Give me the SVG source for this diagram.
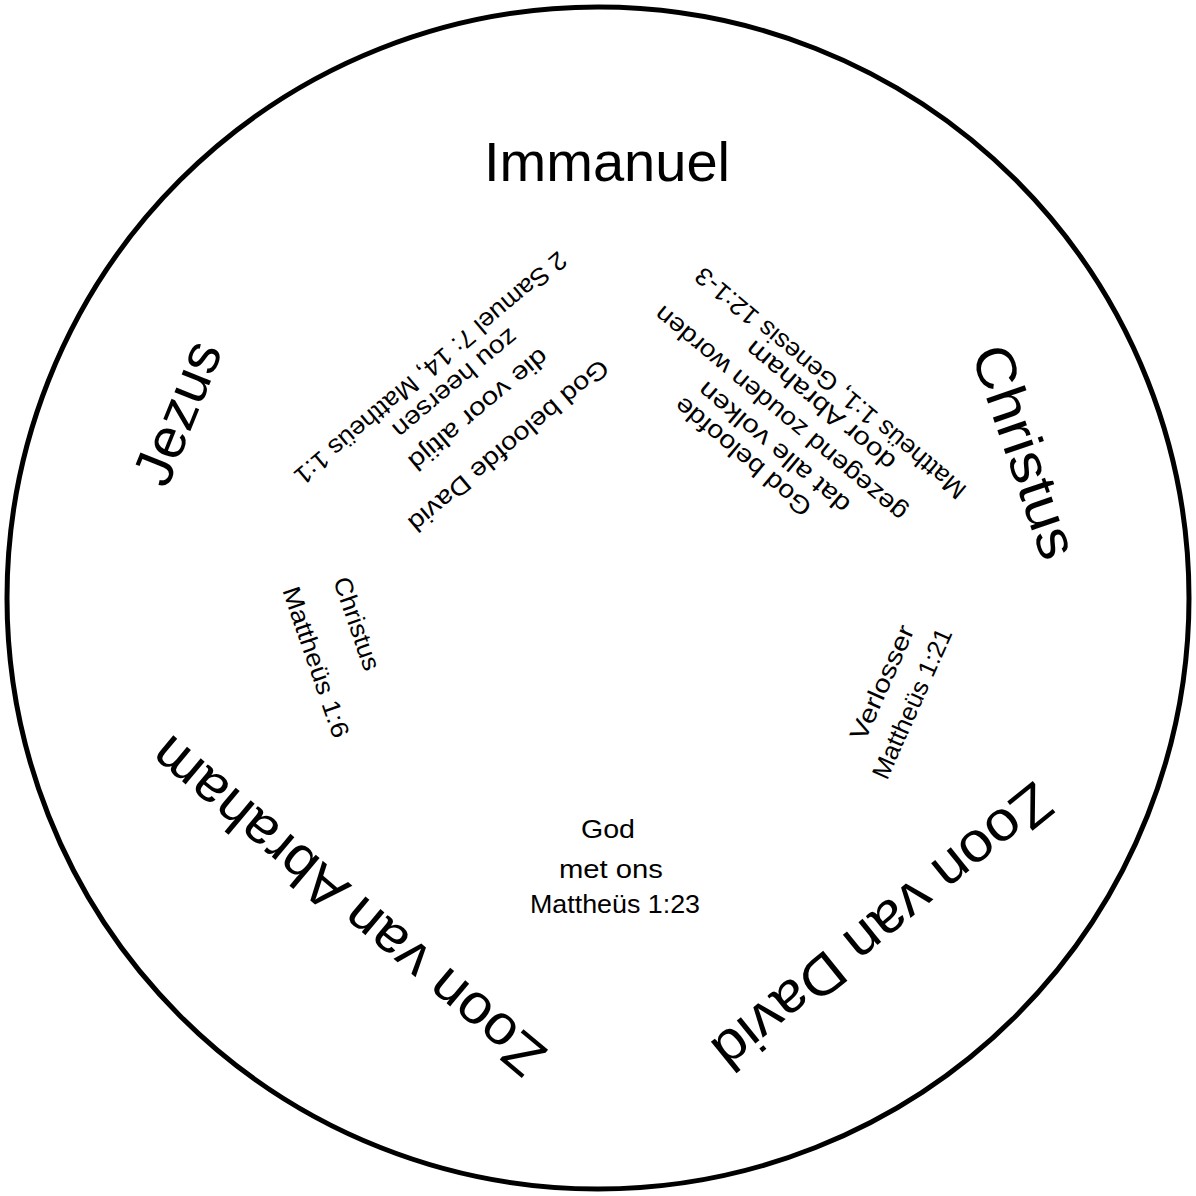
<svg xmlns="http://www.w3.org/2000/svg" width="1196" height="1196" viewBox="0 0 1196 1196">
<style>
  text { font-family: "Liberation Sans", Arial, sans-serif; fill: #000; text-anchor: middle; }
  .big { font-size: 56px; }
  .small { font-size: 25px; }
</style>
<rect width="1196" height="1196" fill="#fff"/>
<g id="wheel">
  <circle cx="598" cy="598" r="591" fill="none" stroke="#000" stroke-width="5"/>
</g>
<g id="connectors"></g>

<g id="immanuel">
  <text class="big" x="607" y="181" textLength="246" lengthAdjust="spacingAndGlyphs">Immanuel</text>
</g>
<g id="christus">
  <text class="big" transform="translate(1007,458) rotate(71)" textLength="222" lengthAdjust="spacingAndGlyphs">Christus</text>
</g>
<g id="zoon-van-david">
  <text class="big" transform="translate(871,912) rotate(141)" textLength="420" lengthAdjust="spacingAndGlyphs">Zoon van David</text>
</g>
<g id="zoon-van-abraham">
  <text class="big" transform="translate(360,892) rotate(220)" textLength="495" lengthAdjust="spacingAndGlyphs">Zoon van Abraham</text>
</g>
<g id="jezus">
  <text class="big" transform="translate(195,420) rotate(-68)" textLength="150" lengthAdjust="spacingAndGlyphs">Jezus</text>
</g>

<g id="belofte-david">
  <text class="small" transform="translate(508,445) rotate(140)" y="7.5" textLength="253" lengthAdjust="spacingAndGlyphs">God beloofde David</text>
  <text class="small" transform="translate(478,409) rotate(140)" y="7.5" textLength="174" lengthAdjust="spacingAndGlyphs">die voor altijd</text>
  <text class="small" transform="translate(454,382) rotate(140)" y="6.5" textLength="155" lengthAdjust="spacingAndGlyphs">zou heersen</text>
  <text class="small" transform="translate(430,367.5) rotate(140)" y="7.5" textLength="347" lengthAdjust="spacingAndGlyphs">2 Samuel 7: 14, Mattheüs 1:1</text>
</g>

<g id="belofte-abraham">
  <text class="small" transform="translate(743.5,456) rotate(220)" y="7.5" textLength="170" lengthAdjust="spacingAndGlyphs">God beloofde</text>
  <text class="small" transform="translate(774.5,447) rotate(220)" y="7.5" textLength="190" lengthAdjust="spacingAndGlyphs">dat alle volken</text>
  <text class="small" transform="translate(781,413) rotate(220)" y="7.5" textLength="320" lengthAdjust="spacingAndGlyphs">gezegend zouden worden</text>
  <text class="small" transform="translate(821,405) rotate(220)" y="7.5" textLength="187" lengthAdjust="spacingAndGlyphs">door Abraham</text>
  <text class="small" transform="translate(831,382.5) rotate(220)" y="7.5" textLength="345" lengthAdjust="spacingAndGlyphs">Mattheüs 1:1, Genesis 12:1-3</text>
</g>

<g id="christus-vers">
  <text class="small" transform="translate(356,624) rotate(71)" y="7.5" textLength="97" lengthAdjust="spacingAndGlyphs">Christus</text>
  <text class="small" transform="translate(315,662.5) rotate(71)" y="7.5" textLength="158" lengthAdjust="spacingAndGlyphs">Mattheüs 1:6</text>
</g>

<g id="verlosser-vers">
  <text class="small" transform="translate(883,683) rotate(-66)" y="7.5" textLength="123" lengthAdjust="spacingAndGlyphs">Verlosser</text>
  <text class="small" transform="translate(913,704) rotate(-66)" y="7.5" textLength="162" lengthAdjust="spacingAndGlyphs">Mattheüs 1:21</text>
</g>

<g id="god-met-ons">
  <text class="small" x="608" y="838" textLength="54" lengthAdjust="spacingAndGlyphs">God</text>
  <text class="small" x="611" y="878" textLength="104" lengthAdjust="spacingAndGlyphs">met ons</text>
  <text class="small" x="615" y="913" textLength="170" lengthAdjust="spacingAndGlyphs">Mattheüs 1:23</text>
</g>
</svg>
